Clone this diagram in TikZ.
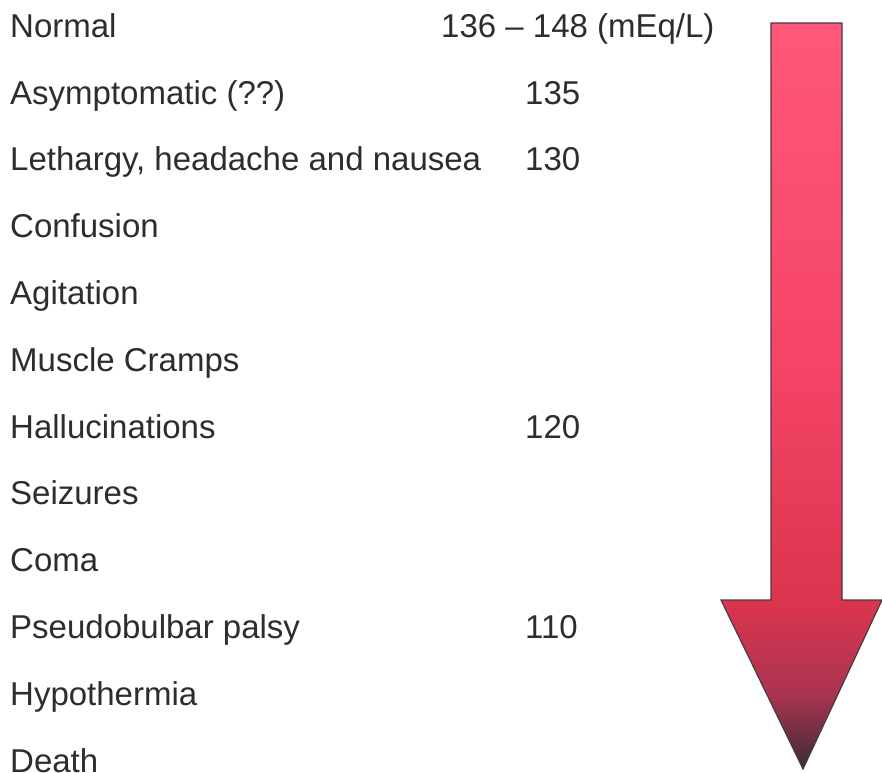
\documentclass[tikz,border=0pt]{standalone}
\usepackage{fontspec}
\setmainfont{Liberation Sans}
\definecolor{txt}{RGB}{45,45,45}
\definecolor{ctop}{RGB}{255,88,122}
\definecolor{cmid}{RGB}{245,68,102}
\definecolor{cred}{RGB}{218,52,78}
\definecolor{cmaroon}{RGB}{170,52,80}
\definecolor{cdark}{RGB}{58,44,52}
\definecolor{edge}{RGB}{70,60,65}
\pgfdeclareverticalshading{arrowshade}{100bp}{color(0bp)=(cdark); color(25bp)=(cdark); color(30bp)=(cmaroon); color(36bp)=(cred); color(52bp)=(cmid); color(75bp)=(ctop); color(100bp)=(ctop)}
\tikzset{
  lbl/.style={anchor=base west, inner sep=0pt, text=txt, font=\fontsize{33}{40}\selectfont},
}
\begin{document}
\begin{tikzpicture}[x=1pt,y=-1pt]
\useasboundingbox (0,0) rectangle (882,772);
\clip (0,0) rectangle (882,772);
\fill[white] (0,0) rectangle (882,772);
% arrow
\draw[edge, line width=1.2pt, line join=miter, shading=arrowshade]
  (771,23) -- (842,23) -- (842,600) -- (882,600) -- (803,769) -- (721,600) -- (771,600) -- cycle;
% left labels
\node[lbl] (n0) at (10,37) {Normal};
\node[lbl] (n1) at (10,104) {Asymptomatic (??)};
\node[lbl] (n2) at (10,170) {Lethargy, headache and nausea};
\node[lbl] (n3) at (10,237) {Confusion};
\node[lbl] (n4) at (10,304) {Agitation};
\node[lbl] (n5) at (10,371) {Muscle Cramps};
\node[lbl] (n6) at (10,438) {Hallucinations};
\node[lbl] (n7) at (10,504) {Seizures};
\node[lbl] (n8) at (10,571) {Coma};
\node[lbl] (n9) at (10,638) {Pseudobulbar palsy};
\node[lbl] (n10) at (10,705) {Hypothermia};
\node[lbl] (n11) at (10,772) {Death};
% values
\node[lbl] (v0) at (441,37) {136 – 148 (mEq/L)};
\node[lbl] (v1) at (525,104) {135};
\node[lbl] (v2) at (525,170) {130};
\node[lbl] (v6) at (525,438) {120};
\node[lbl] (v9) at (525,638) {110};
\end{tikzpicture}
\end{document}
